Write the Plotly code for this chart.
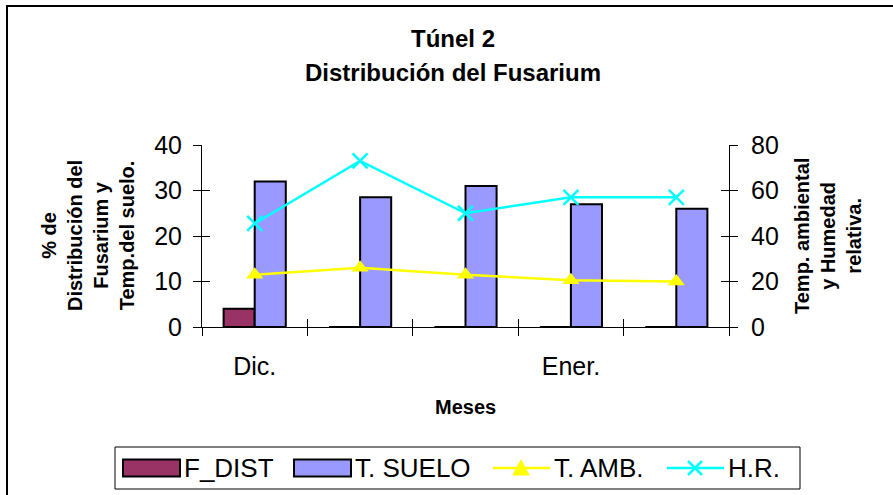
import plotly.graph_objects as go

# Monthly readings, tunnel 2
months = [1, 2, 3, 4, 5]
month_labels = ["Dic.", "Ener."]
month_label_pos = [1, 4]
f_dist = [4, 0, 0, 0, 0]            # % Fusarium distribution
t_suelo = [32, 28.5, 31, 27, 26]     # soil temperature
t_amb = [23, 26, 23, 20.5, 20]       # ambient temperature
h_r = [45.5, 73, 50, 57, 57]         # relative humidity

FONT = "Liberation Sans, Arial, sans-serif"
W, H = 893, 495
L, R, T, B = 202, 164, 145, 168
PW, PH = W - L - R, H - T - B

C_FDIST, C_SUELO, C_AMB, C_HR = "#993366", "#9999FF", "#FFFF00", "#00FFFF"


def px_x(p):
    return (p - L) / PW


def px_y(p):
    return (H - B - p) / PH


fig = go.Figure()
fig.add_trace(go.Bar(
    x=months, y=f_dist, name="F_DIST",
    marker=dict(color=C_FDIST, line=dict(color="black", width=2)),
))
fig.add_trace(go.Bar(
    x=months, y=t_suelo, name="T. SUELO",
    marker=dict(color=C_SUELO, line=dict(color="black", width=2)),
))
fig.add_trace(go.Scatter(
    x=months, y=t_amb, name="T. AMB.", yaxis="y2", mode="lines+markers",
    line=dict(color=C_AMB, width=2.5),
    marker=dict(symbol="triangle-up", size=15, color=C_AMB),
))
fig.add_trace(go.Scatter(
    x=months, y=h_r, name="H.R.", yaxis="y2", mode="lines+markers",
    line=dict(color=C_HR, width=2.5),
    marker=dict(symbol="x-thin-open", size=15, line=dict(color=C_HR, width=2.5)),
))
# transparent carriers so the month labels and the inner tick marks are drawn
fig.add_trace(go.Scatter(x=months, y=t_suelo, xaxis="x2", yaxis="y3",
                         mode="markers", marker=dict(opacity=0),
                         showlegend=False, hoverinfo="skip"))
fig.add_trace(go.Scatter(x=months, y=h_r, xaxis="x3", yaxis="y4",
                         mode="markers", marker=dict(opacity=0),
                         showlegend=False, hoverinfo="skip"))

bounds = [m - 0.5 for m in months] + [months[-1] + 0.5]
xr = [bounds[0], bounds[-1]]
tickfont = dict(family=FONT, size=25, color="black")
titlefont = dict(family=FONT, size=20, color="black")
hidden = dict(showline=False, showgrid=False, zeroline=False)

fig.update_layout(
    width=W, height=H,
    margin=dict(l=L, r=R, t=T, b=B),
    paper_bgcolor="white", plot_bgcolor="white",
    barmode="group", bargap=0.41, bargroupgap=0,
    showlegend=False,
    xaxis=dict(
        range=xr, tickmode="array", tickvals=bounds, showticklabels=False,
        ticks="outside", ticklen=8, tickcolor="black", showgrid=False,
        showline=True, linecolor="black", linewidth=1, zeroline=False,
    ),
    xaxis2=dict(
        overlaying="x", range=xr, tickmode="array", tickvals=month_label_pos,
        ticktext=month_labels, ticks="", tickfont=tickfont,
        ticklabelstandoff=22, side="bottom", **hidden,
    ),
    xaxis3=dict(
        overlaying="x", range=xr, tickmode="array", tickvals=bounds,
        showticklabels=False, ticks="inside", ticklen=8, tickcolor="black",
        side="bottom", **hidden,
    ),
    yaxis=dict(
        range=[0, 40], dtick=10, ticks="outside", ticklen=8, tickcolor="black",
        showline=True, linecolor="black", linewidth=1, showgrid=False,
        zeroline=False, tickfont=tickfont, ticklabelstandoff=6,
    ),
    yaxis2=dict(
        overlaying="y", side="right", range=[0, 80], dtick=20, ticks="outside",
        ticklen=8, tickcolor="black", showline=True, linecolor="black",
        linewidth=1, showgrid=False, zeroline=False, tickfont=tickfont,
        ticklabelstandoff=8,
    ),
    yaxis3=dict(
        overlaying="y", side="left", range=[0, 40], dtick=10, ticks="inside",
        ticklen=8, tickcolor="black", showticklabels=False, **hidden,
    ),
    yaxis4=dict(
        overlaying="y", side="right", range=[0, 80], dtick=20, ticks="inside",
        ticklen=8, tickcolor="black", showticklabels=False, **hidden,
    ),
)

annotations = [
    dict(text="<b>Túnel 2</b>", x=px_x(453), y=px_y(38)),
    dict(text="<b>Distribución del Fusarium</b>", x=px_x(453), y=px_y(72)),
    dict(text="<b>Meses</b>", x=0.5, y=px_y(407), font=titlefont),
    dict(text="<b>% de<br>Distribución del<br>Fusarium y<br>Temp.del suelo.</b>",
         x=px_x(88), y=0.5, textangle=-90, font=titlefont),
    dict(text="<b>Temp. ambiental<br>y Humedad<br>relativa.</b>",
         x=px_x(828), y=0.5, textangle=-90, font=titlefont),
]
for a in annotations:
    a.setdefault("font", dict(family=FONT, size=24, color="black"))
    fig.add_annotation(xref="paper", yref="paper", xanchor="center",
                       yanchor="middle", showarrow=False, **a)

# ---- legend box drawn in page space ----
LEG_Y = 468
paper = dict(xref="paper", yref="paper")
fig.add_shape(type="rect", x0=px_x(115), x1=px_x(800), y0=px_y(489), y1=px_y(447),
              line=dict(color="black", width=1), fillcolor="white", **paper)


def legend_text(label, x0):
    fig.add_annotation(text=label, x=px_x(x0), y=px_y(LEG_Y), xanchor="left",
                       yanchor="middle", showarrow=False,
                       font=dict(family=FONT, size=26, color="black"), **paper)


def legend_swatch(color, x0, x1):
    fig.add_shape(type="rect", x0=px_x(x0), x1=px_x(x1),
                  y0=px_y(LEG_Y + 8.5), y1=px_y(LEG_Y - 8.5),
                  line=dict(color="black", width=2), fillcolor=color, **paper)


def legend_line(color, x0, x1):
    fig.add_shape(type="line", x0=px_x(x0), x1=px_x(x1), y0=px_y(LEG_Y),
                  y1=px_y(LEG_Y), line=dict(color=color, width=2.5), **paper)


legend_swatch(C_FDIST, 123, 180)
legend_text("F_DIST", 182)
legend_swatch(C_SUELO, 294, 351)
legend_text("T. SUELO", 353)

legend_line(C_AMB, 493, 550)
cx = 521
fig.add_shape(type="path", **paper, fillcolor=C_AMB, line=dict(color=C_AMB, width=1),
              path="M {} {} L {} {} L {} {} Z".format(
                  px_x(cx - 8), px_y(LEG_Y + 7), px_x(cx + 8), px_y(LEG_Y + 7),
                  px_x(cx), px_y(LEG_Y - 8)))
legend_text("T. AMB.", 552)

legend_line(C_HR, 667, 724)
cx = 695
for d in (1, -1):
    fig.add_shape(type="line", x0=px_x(cx - 7), x1=px_x(cx + 7),
                  y0=px_y(LEG_Y - 7 * d), y1=px_y(LEG_Y + 7 * d),
                  line=dict(color=C_HR, width=2.5), **paper)
legend_text("H.R.", 726)

# outer chart frame
fig.add_shape(type="rect", x0=px_x(7), x1=px_x(W + 20), y0=px_y(H + 20), y1=px_y(6),
              line=dict(color="black", width=2), fillcolor="rgba(0,0,0,0)",
              layer="below", **paper)

fig.write_html("out.html")
